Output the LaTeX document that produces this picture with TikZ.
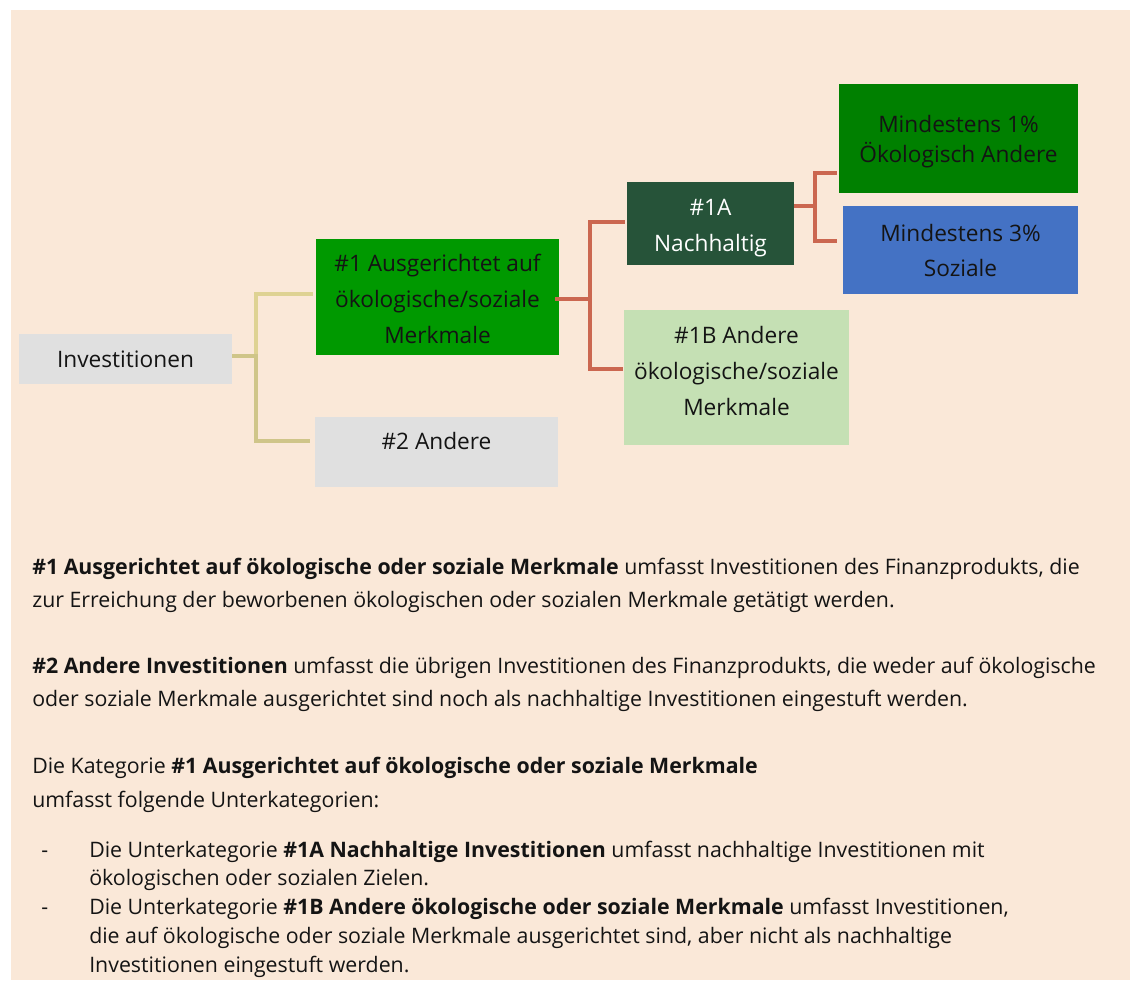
\documentclass[tikz,border=0pt]{standalone}
\usepackage{fontspec}
\setmainfont{Open Sans}
\usetikzlibrary{calc}
\definecolor{bgc}{HTML}{FAE8D8}
\definecolor{greyc}{HTML}{E0E0E0}
\definecolor{gone}{HTML}{009900}
\definecolor{gmin}{HTML}{008000}
\definecolor{gdark}{HTML}{265339}
\definecolor{glight}{HTML}{C5E0B4}
\definecolor{bluec}{HTML}{4472C4}
\definecolor{redl}{HTML}{CB6750}
\definecolor{yella}{HTML}{DED293}
\definecolor{yellb}{HTML}{CFC589}
\definecolor{txt}{HTML}{141414}
\newdimen\pxu \pxu=0.75pt
\tikzset{
  boxnode/.style={inner sep=0pt, align=center, text=txt,
    font=\fontsize{17pt}{27pt}\selectfont},
  bodyline/.style={anchor=base west, inner sep=0pt, text=txt,
    font=\fontsize{16pt}{20pt}\selectfont},
  rl/.style={draw=redl, line width=3pt},
  yla/.style={draw=yella, line width=3pt},
  ylb/.style={draw=yellb, line width=3pt}
}
\begin{document}
\begin{tikzpicture}[x=0.75pt,y=-0.75pt]
\useasboundingbox (0,0) rectangle (1133,983);
\fill[white] (0,0) rectangle (1133,983);
\fill[bgc] (11,10) rectangle (1130,980);

% boxes
\node[boxnode, fill=greyc, minimum width=213\pxu, minimum height=50\pxu] (inv) at (125.5,359) {Investitionen};
\node[boxnode, fill=gone, minimum width=243\pxu, minimum height=116\pxu,
  label={[boxnode, yshift=-1.5pt]center:{\#1 Ausgerichtet auf\\ökologische/soziale\\Merkmale}}] (n1) at (437.5,297) {};
\node[boxnode, fill=greyc, minimum width=243\pxu, minimum height=70\pxu,
  label={[boxnode, yshift=8.25pt]center:\#2 Andere}] (n2) at (436.5,452) {};
\node[boxnode, fill=gdark, minimum width=167\pxu, minimum height=83\pxu,
  label={[boxnode, text=white, yshift=-3.75pt]center:{\#1A\\Nachhaltig}}] (n1a) at (710.5,223.5) {};
\node[boxnode, fill=glight, minimum width=225\pxu, minimum height=135\pxu,
  label={[boxnode, yshift=4.9pt]center:{\#1B Andere\\ökologische/soziale\\Merkmale}}] (n1b) at (736.5,377.5) {};
\node[boxnode, fill=gmin, minimum width=239\pxu, minimum height=109\pxu,
  label={[boxnode, font=\fontsize{17pt}{22.5pt}\selectfont, yshift=-2.25pt]center:{Mindestens 1\%\\Ökologisch Andere}}] (m1) at (958.5,138.5) {};
\node[boxnode, fill=bluec, minimum width=235\pxu, minimum height=88\pxu,
  font=\fontsize{17pt}{26.25pt}\selectfont] (m3) at (960.5,250) {Mindestens 3\%\\Soziale};

% connectors
\coordinate (jy) at (256,356);
\draw[yla] (jy) |- ($(n1.west)+(-3,-3)$);
\draw[ylb] ($(inv.east)+(0,-3)$) -- (jy) |- ($(n2.west)+(-5,-11)$);

\coordinate (jr) at (590,299);
\draw[rl] ($(n1.east)+(-4,2)$) -- (jr);
\draw[rl] ($(n1a.west)+(-2,-1.5)$) -| (jr) |- ($(n1b.west)+(-1,-8.5)$);

\coordinate (jr2) at (815,206);
\draw[rl] ($(n1a.east)+(0,-17.5)$) -- (jr2);
\draw[rl] ($(m1.west)+(-2,34.5)$) -| (jr2) |- ($(m3.west)+(-6,-9)$);

% body text
\node[bodyline] (t1) at (32,574) {\textbf{\#1 Ausgerichtet auf ökologische oder soziale Merkmale} umfasst Investitionen des Finanzprodukts, die};
\node[bodyline] (t2) at (32,607) {zur Erreichung der beworbenen ökologischen oder sozialen Merkmale getätigt werden.};
\node[bodyline] (t3) at (32,673) {\textbf{\#2 Andere Investitionen} umfasst die übrigen Investitionen des Finanzprodukts, die weder auf ökologische};
\node[bodyline] (t4) at (32,706) {oder soziale Merkmale ausgerichtet sind noch als nachhaltige Investitionen eingestuft werden.};
\node[bodyline] (t5) at (32,773) {Die Kategorie \textbf{\#1 Ausgerichtet auf ökologische oder soziale Merkmale}};
\node[bodyline] (t6) at (32,807) {umfasst folgende Unterkategorien:};
\node[bodyline] (d1) at (41,857) {-};
\node[bodyline] (t7) at (89,857) {Die Unterkategorie \textbf{\#1A Nachhaltige Investitionen} umfasst nachhaltige Investitionen mit};
\node[bodyline] (t8) at (89,885) {ökologischen oder sozialen Zielen.};
\node[bodyline] (d2) at (41,914) {-};
\node[bodyline] (t9) at (89,914) {Die Unterkategorie \textbf{\#1B Andere ökologische oder soziale Merkmale} umfasst Investitionen,};
\node[bodyline] (t10) at (89,943) {die auf ökologische oder soziale Merkmale ausgerichtet sind, aber nicht als nachhaltige};
\node[bodyline] (t11) at (89,972) {Investitionen eingestuft werden.};
\end{tikzpicture}
\end{document}
